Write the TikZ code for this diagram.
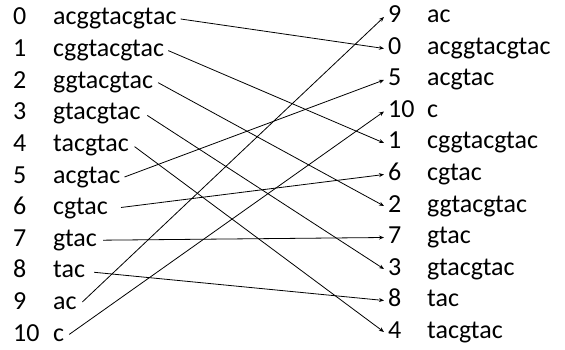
\documentclass[tikz,border=0pt]{standalone}
\usepackage{fontspec}
\setmainfont{Carlito}
\usetikzlibrary{arrows.meta}
\begin{document}
\begin{tikzpicture}[x=1pt,y=-1pt,
  lbl/.style={font=\fontsize{26}{26}\selectfont, inner sep=0pt, anchor=base west, text height=12pt, text depth=0pt},
  src/.style={lbl, inner xsep=4pt},
  dst/.style={lbl, inner xsep=4pt},
  link/.style={line width=0.8pt, -{Stealth[length=5pt,width=4pt]}}
]
\fill[white] (0,0) rectangle (565,350);
\useasboundingbox (0,0) rectangle (565,350);
% left column
\foreach \i/\s in {0/acggtacgtac,1/cggtacgtac,2/ggtacgtac,3/gtacgtac,4/tacgtac,5/acgtac,6/cgtac,7/gtac,8/tac,9/ac,10/c}{
  \node[lbl] (LN\i) at (13,{25+31.6*\i}) {\i};
  \node[src] (L\i) at (49,{25+31.6*\i}) {\s};
}
% right column
\foreach \r/\i/\s in {0/9/ac,1/0/acggtacgtac,2/5/acgtac,3/10/c,4/1/cggtacgtac,5/6/cgtac,6/2/ggtacgtac,7/7/gtac,8/3/gtacgtac,9/8/tac,10/4/tacgtac}{
  \node[dst] (R\i) at (384,{23+31.5*\r}) {\i};
  \node[lbl] (RS\i) at (427,{23+31.5*\r}) {\s};
}
\foreach \i/\g in {0/0,1/0,2/1,3/3,4/2,5/0,6/9,7/2,8/5,9/2,10/1}{
  \draw[link, shorten <=\g pt] (L\i.east) -- (R\i.west);
}
\end{tikzpicture}
\end{document}
